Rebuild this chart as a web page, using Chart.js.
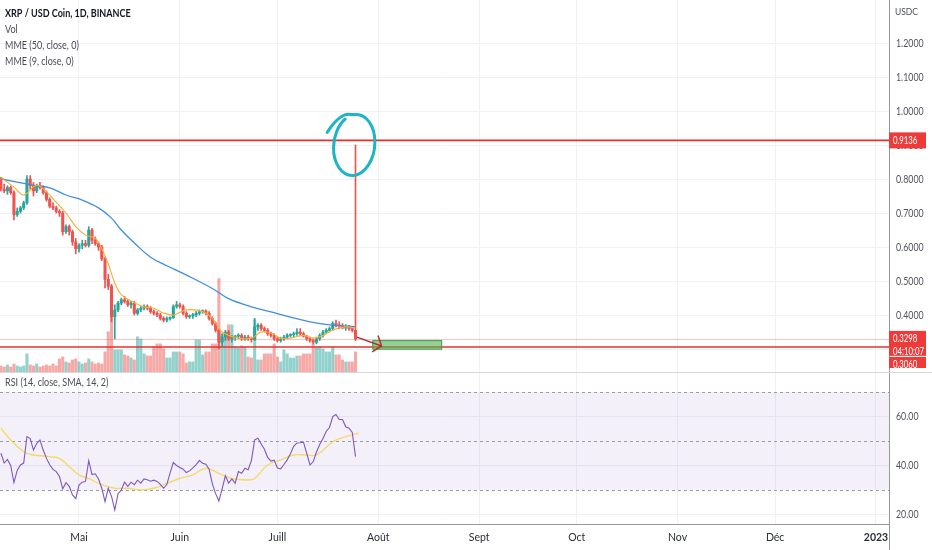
<!DOCTYPE html>
<html lang="fr">
<head>
<meta charset="UTF-8">
<title>XRP / USD Coin, 1D, BINANCE</title>
<script src="https://cdn.jsdelivr.net/npm/chart.js"></script>
<style>
  body { margin: 0; background: #fff; }
  #wrap { position: relative; width: 932px; height: 550px; }
  #pricePane { position: absolute; left: 0; top: 0; }
  #rsiPane { position: absolute; left: 0; top: 372px; }
</style>
</head>
<body>
<div id="wrap">
  <canvas id="pricePane" width="932" height="372"></canvas>
  <canvas id="rsiPane" width="932" height="178"></canvas>
</div>
<script>
// days are counted from 1 April 2022 (= day 0), one candle per day
const firstDay = 6;

const opens = [
  .795,.770,.765,.775,.760,.695,.705,.715,.730,.800,
  .780,.765,.780,.775,.760,.740,.720,.715,.705,.700,
  .645,.660,.645,.615,.595,.605,.610,.605,.650,.620,
  .610,.600,.565,.505,.485,.395,.415,.435,.445,.440,
  .430,.435,.405,.415,.420,.425,.420,.410,.405,.400,
  .390,.385,.390,.392,.425,.430,.425,.405,.395,.398,
  .400,.405,.410,.412,.405,.390,.375,.355,.320,.335,
  .350,.330,.335,.338,.340,.330,.335,.330,.328,.365,
  .370,.360,.355,.345,.340,.330,.325,.330,.335,.340,
  .342,.345,.350,.345,.338,.330,.325,.320,.330,.340,
  .350,.355,.360,.375,.370,.368,.362,.365,.360,.355
];
const highs = [
  .805,.785,.780,.780,.765,.715,.720,.735,.810,.810,
  .790,.785,.790,.780,.765,.745,.730,.720,.710,.705,
  .665,.665,.650,.625,.610,.620,.620,.660,.655,.630,
  .615,.605,.570,.520,.490,.430,.440,.450,.455,.445,
  .440,.440,.420,.425,.430,.430,.425,.415,.410,.405,
  .395,.395,.395,.430,.440,.435,.430,.410,.400,.405,
  .410,.415,.415,.415,.410,.395,.380,.360,.345,.355,
  .355,.340,.340,.345,.345,.340,.340,.335,.390,.375,
  .375,.365,.360,.350,.345,.335,.335,.340,.345,.345,
  .350,.360,.360,.350,.340,.335,.330,.335,.345,.355,
  .360,.365,.380,.385,.380,.375,.372,.370,.365,.900
];
const lows = [
  .765,.760,.755,.755,.680,.690,.700,.710,.725,.770,
  .750,.760,.770,.755,.735,.715,.710,.700,.690,.635,
  .640,.635,.605,.580,.585,.595,.600,.600,.610,.605,
  .590,.560,.480,.475,.380,.330,.410,.430,.435,.425,
  .420,.400,.400,.410,.415,.415,.405,.400,.395,.385,
  .380,.380,.385,.390,.420,.420,.400,.390,.390,.390,
  .395,.400,.405,.400,.385,.370,.350,.300,.310,.325,
  .325,.320,.325,.330,.325,.325,.325,.320,.325,.355,
  .355,.350,.340,.335,.325,.320,.320,.325,.330,.335,
  .335,.340,.340,.335,.325,.320,.315,.315,.325,.335,
  .345,.350,.355,.365,.360,.360,.355,.355,.350,.325
];
const closes = [
  .770,.765,.775,.760,.695,.705,.715,.730,.800,.780,
  .765,.780,.775,.760,.740,.720,.715,.705,.700,.645,
  .660,.645,.615,.595,.605,.610,.605,.650,.620,.610,
  .600,.565,.505,.485,.395,.415,.435,.445,.440,.430,
  .435,.405,.415,.420,.425,.420,.410,.405,.400,.390,
  .385,.390,.392,.425,.430,.425,.405,.395,.398,.400,
  .405,.410,.412,.405,.390,.375,.355,.320,.335,.350,
  .330,.335,.338,.340,.330,.335,.330,.328,.365,.370,
  .360,.355,.345,.340,.330,.325,.330,.335,.340,.342,
  .345,.350,.345,.338,.330,.325,.320,.330,.340,.350,
  .355,.360,.375,.370,.368,.362,.365,.360,.355,.3298
];
// volume, millions of XRP
const volumes = [
  24,20,28,20,32,24,20,24,72,28,
  24,32,20,24,28,24,32,24,52,60,
  40,36,48,52,40,32,36,52,40,32,
  36,32,80,160,220,88,88,88,68,64,
  56,48,140,132,72,64,64,100,112,112,
  92,56,56,80,80,80,72,36,40,40,
  128,128,68,80,80,112,112,372,152,152,
  188,188,100,96,104,100,60,56,208,48,
  48,72,72,72,112,60,40,88,72,56,
  56,64,64,72,72,72,112,100,100,92,
  80,80,100,68,68,48,40,40,40,80
];
const rsi = [
  45,41,42.5,40,33,38,40.2,41,51.8,51,
  46.3,49,50.4,46.3,42.9,40.3,38.4,37.5,35.5,30.5,
  33,31.5,28,26.5,32,33.2,33.5,42,36.3,36.6,
  34.5,30.7,25.2,30.7,27.4,21.9,28.5,30,33.2,31.5,
  33.2,32.2,34,32.8,34.5,34.2,33.6,34,33.5,32.3,
  30.7,32.2,37,41.2,40,39.2,38.5,37.1,37.8,39,
  40.4,42,40.9,40.5,38.5,32.5,28.5,25.5,30.5,35.8,
  32.8,34.5,32.7,37.5,36.8,38.9,38.3,42,50.5,51.1,
  48.8,46.6,43.3,41.8,42.2,39,38.6,40.4,42.3,44.8,
  47.8,49.2,49.3,49.5,45,40.2,41.5,45.5,48.6,51,
  54,55.5,60,60.8,58.8,58.8,55.8,55.2,53.5,43.6
];

// moving averages
const ema50Days = [6,16,21,26,31,36,40,43,47,52,57,61,65,71,76,83,89,95,101,107,115];
const ema50 = [.800,.782,.774,.753,.738,.715,.685,.650,.612,.570,.545,.527,.508,.478,.448,.424,.409,.394,.380,.371,.366];
const ema9Days = [6,10,13,17,20,23,26,29,32,35,37,39,41,43,47,50,53,56,59,63,68,71,74,79,83,86,89,92,95,99,102,105,108,112,115];
const ema9 = [.805,.776,.753,.782,.762,.732,.700,.660,.635,.626,.595,.550,.494,.460,.436,.424,.420,.406,.400,.415,.410,.390,.350,.332,.332,.350,.347,.332,.332,.340,.332,.340,.356,.365,.362];
const rsiSmaDays = [6,9,13,16,21,24,27,30,33,36,41,45,49,53,57,61,65,69,73,77,82,84,88,92,96,100,103,108,112,116];
const rsiSma = [55.2,50.4,45.6,44.3,43.6,42.9,39.5,36.2,34.7,32.7,30.7,30.7,30.0,30.7,32.7,34.7,36.2,38.9,36.8,34.7,34.1,34.7,40.2,42.3,44.3,44.3,44.3,49.7,51.8,53.2];

const monthDays = [30, 61, 91, 122, 153, 183, 214, 244, 275];
const monthLabels = ['Mai', 'Juin', 'Juill', 'Août', 'Sept', 'Oct', 'Nov', 'Déc', '2023'];
const priceTicks = [0.3, 0.4, 0.5, 0.6, 0.7, 0.8, 0.9, 1.0, 1.1, 1.2];
const rsiTicks = [20, 40, 60];

const levelLines = [0.9136, 0.3060];
const lastPrice = 0.3298;
const countdown = '04:10:07';

// hand drawings on the chart (day, price)
const targetBox = { from: 120.3, to: 141.5, top: 0.3247, bottom: 0.2994 };
const arrow = { fromDay: 115.4, fromPrice: 0.335, toDay: 123, toPrice: 0.309 };
const ring = { day: 114.6, price: 0.90, rDays: 6.3, rPrice: 0.09, tailDay: 106.3, tailPrice: 0.937 };

const xMin = 5.715, xMax = 279.0;
const days = closes.map((_, i) => firstDay + i);

const UP = '#26a69a', DOWN = '#ef5350';
const font = "Lato, 'Open Sans', sans-serif";
const gridColor = '#eff1f4';
const textColor = '#50535e';
const isUp = i => closes[i] >= opens[i];

// narrow text, like the TradingView UI font
function narrowText(ctx, text, x, y, size, weight, sx) {
  ctx.save();
  ctx.font = (weight || '') + ' ' + size + 'px ' + font;
  ctx.scale(sx, 1);
  ctx.fillText(text, x / sx, y);
  ctx.restore();
}

const pricePlugin = {
  id: 'priceDecor',
  afterDatasetsDraw(chart) {
    const { ctx, chartArea: a, scales: { x, y } } = chart;
    ctx.save();
    // current price line
    ctx.strokeStyle = 'rgba(239,83,80,0.35)';
    ctx.lineWidth = 1;
    let py = Math.round(y.getPixelForValue(lastPrice)) + 0.5;
    ctx.beginPath(); ctx.moveTo(a.left, py); ctx.lineTo(a.right, py); ctx.stroke();
    // horizontal levels
    ctx.strokeStyle = '#e3302d';
    ctx.lineWidth = 1.6;
    levelLines.forEach(v => {
      const ly = y.getPixelForValue(v);
      ctx.beginPath(); ctx.moveTo(a.left, ly); ctx.lineTo(a.right, ly); ctx.stroke();
    });
    // target box
    const bx1 = x.getPixelForValue(targetBox.from), bx2 = x.getPixelForValue(targetBox.to);
    const by1 = y.getPixelForValue(targetBox.top), by2 = y.getPixelForValue(targetBox.bottom);
    ctx.fillStyle = 'rgba(76,175,80,0.6)';
    ctx.fillRect(bx1, by1, bx2 - bx1, by2 - by1);
    ctx.strokeStyle = '#3f9a43';
    ctx.lineWidth = 1;
    ctx.strokeRect(bx1, by1, bx2 - bx1, by2 - by1);
    // arrow
    const ax1 = x.getPixelForValue(arrow.fromDay), ay1 = y.getPixelForValue(arrow.fromPrice);
    const ax2 = x.getPixelForValue(arrow.toDay), ay2 = y.getPixelForValue(arrow.toPrice);
    const ang = Math.atan2(ay2 - ay1, ax2 - ax1);
    ctx.strokeStyle = '#b3302c';
    ctx.lineWidth = 1.5;
    ctx.beginPath(); ctx.moveTo(ax1, ay1); ctx.lineTo(ax2, ay2); ctx.stroke();
    ctx.beginPath();
    ctx.moveTo(ax2 + 11 * Math.cos(ang + Math.PI - 0.9), ay2 + 11 * Math.sin(ang + Math.PI - 0.9));
    ctx.lineTo(ax2, ay2);
    ctx.lineTo(ax2 + 11 * Math.cos(ang + Math.PI + 0.9), ay2 + 11 * Math.sin(ang + Math.PI + 0.9));
    ctx.stroke();
    // hand drawn ring
    const cx = x.getPixelForValue(ring.day), cy = y.getPixelForValue(ring.price);
    const rx = x.getPixelForValue(ring.day + ring.rDays) - cx;
    const ry = y.getPixelForValue(ring.price - ring.rPrice) - cy;
    ctx.strokeStyle = '#1eb3c8';
    ctx.lineWidth = 3;
    ctx.lineCap = 'round';
    ctx.beginPath();
    ctx.moveTo(x.getPixelForValue(ring.tailDay), y.getPixelForValue(ring.tailPrice));
    ctx.quadraticCurveTo(cx - rx * 0.7, cy - ry * 1.05, cx - rx * 0.2, cy - ry);
    ctx.ellipse(cx, cy, rx, ry, 0.12, -Math.PI * 0.55, Math.PI * 1.3);
    ctx.stroke();
    ctx.restore();
  },
  afterDraw(chart) {
    const { ctx, chartArea: a, scales: { y } } = chart;
    const w = 37;
    ctx.save();
    ctx.textBaseline = 'middle';
    ctx.fillStyle = textColor;
    narrowText(ctx, 'USDC', a.right + 6, 12, 10, '', 0.85);
    priceTicks.forEach(v => narrowText(ctx, v.toFixed(4), a.right + 7, y.getPixelForValue(v), 11, '', 0.8));
    // price tags on the axis
    const tag = (top, h, lines) => {
      ctx.fillStyle = '#ee3b3a';
      ctx.fillRect(a.right, top, w, h);
      ctx.fillStyle = '#fff';
      lines.forEach((t, k) => narrowText(ctx, t, a.right + 4, top + 8 + k * 13, 10.5, '', 0.74));
    };
    const t1 = y.getPixelForValue(levelLines[0]);
    tag(t1 - 8, 16, [levelLines[0].toFixed(4)]);
    const t2 = y.getPixelForValue(lastPrice);
    ctx.save();
    ctx.beginPath();
    ctx.rect(a.right, 0, chart.width - a.right, a.bottom - 4);
    ctx.clip();
    tag(t2 + 18, 16, [levelLines[1].toFixed(4)]);
    ctx.restore();
    tag(t2 - 8, 25, [lastPrice.toFixed(4), countdown]);
    // legend
    ctx.fillStyle = '#131722';
    narrowText(ctx, 'XRP / USD Coin, 1D, BINANCE', 5, 14, 10.5, 'bold', 0.86);
    ctx.fillStyle = '#4a4d57';
    narrowText(ctx, 'Vol', 5, 30, 10.5, '', 0.86);
    narrowText(ctx, 'MME (50, close, 0)', 5, 46, 10.5, '', 0.86);
    narrowText(ctx, 'MME (9, close, 0)', 5, 62, 10.5, '', 0.86);
    ctx.restore();
  }
};

new Chart(document.getElementById('pricePane'), {
  type: 'bar',
  data: {
    datasets: [
      {
        label: 'Vol',
        data: days.map((d, i) => ({ x: d, y: volumes[i] })),
        yAxisID: 'yv',
        backgroundColor: c => isUp(c.dataIndex) ? 'rgba(38,166,154,0.5)' : 'rgba(239,83,80,0.5)',
        barThickness: 2.4,
        grouped: false,
        order: 5
      },
      {
        label: 'wick',
        data: days.map((d, i) => ({ x: d, y: [lows[i], highs[i]] })),
        backgroundColor: c => isUp(c.dataIndex) ? UP : DOWN,
        barThickness: 1,
        grouped: false,
        order: 4
      },
      {
        label: 'body',
        data: days.map((d, i) => ({ x: d, y: [opens[i], closes[i]] })),
        backgroundColor: c => isUp(c.dataIndex) ? UP : DOWN,
        barThickness: 2.4,
        minBarLength: 1,
        grouped: false,
        order: 3
      },
      {
        type: 'line',
        label: 'MME (50, close, 0)',
        data: ema50Days.map((d, i) => ({ x: d, y: ema50[i] })),
        borderColor: '#3f8fdc',
        borderWidth: 1.3,
        pointRadius: 0,
        tension: 0.4,
        order: 2
      },
      {
        type: 'line',
        label: 'MME (9, close, 0)',
        data: ema9Days.map((d, i) => ({ x: d, y: ema9[i] })),
        borderColor: '#f6ad33',
        borderWidth: 1.1,
        pointRadius: 0,
        tension: 0.35,
        order: 1
      }
    ]
  },
  options: {
    responsive: false,
    animation: false,
    layout: { padding: 0 },
    plugins: { legend: { display: false }, tooltip: { enabled: false } },
    scales: {
      x: {
        type: 'linear', min: xMin, max: xMax, offset: false,
        grid: { color: gridColor, drawTicks: false, offset: false },
        border: { display: false },
        ticks: { display: false },
        afterBuildTicks: s => { s.ticks = monthDays.map(v => ({ value: v })); },
        afterFit: s => { s.height = 0; }
      },
      y: {
        position: 'right', min: 0.2324, max: 1.3265,
        grid: { color: gridColor, drawTicks: false },
        border: { display: true, color: '#9598a1' },
        ticks: { display: false },
        afterBuildTicks: s => { s.ticks = priceTicks.map(v => ({ value: v })); },
        afterFit: s => { s.width = 43; }
      },
      yv: { display: false, min: 0, max: 1480 }
    }
  },
  plugins: [pricePlugin]
});

const rsiPlugin = {
  id: 'rsiDecor',
  beforeDatasetsDraw(chart) {
    const { ctx, chartArea: a, scales: { y } } = chart;
    ctx.save();
    ctx.fillStyle = 'rgba(126,87,194,0.09)';
    ctx.fillRect(a.left, y.getPixelForValue(70), a.right - a.left, y.getPixelForValue(30) - y.getPixelForValue(70));
    ctx.strokeStyle = '#9a9ca6';
    ctx.lineWidth = 1;
    ctx.setLineDash([3, 3]);
    [70, 50, 30].forEach(v => {
      const ly = Math.round(y.getPixelForValue(v)) + 0.5;
      ctx.beginPath(); ctx.moveTo(a.left, ly); ctx.lineTo(a.right, ly); ctx.stroke();
    });
    ctx.restore();
  },
  afterDraw(chart) {
    const { ctx, chartArea: a, scales: { y } } = chart;
    ctx.save();
    ctx.strokeStyle = '#9598a1';
    ctx.lineWidth = 1;
    ctx.beginPath(); ctx.moveTo(a.right + 0.5, a.bottom); ctx.lineTo(a.right + 0.5, chart.height); ctx.stroke();
    ctx.strokeStyle = '#d6d8de';
    ctx.beginPath(); ctx.moveTo(0, 0.5); ctx.lineTo(chart.width, 0.5); ctx.stroke();
    ctx.textBaseline = 'middle';
    ctx.fillStyle = textColor;
    rsiTicks.forEach(v => narrowText(ctx, v.toFixed(2), a.right + 7, y.getPixelForValue(v), 11, '', 0.8));
    ctx.fillStyle = '#4a4d57';
    narrowText(ctx, 'RSI (14, close, SMA, 14, 2)', 5, 11, 10.5, '', 0.86);
    ctx.restore();
  }
};

new Chart(document.getElementById('rsiPane'), {
  type: 'line',
  data: {
    datasets: [
      {
        label: 'RSI',
        data: days.map((d, i) => ({ x: d, y: rsi[i] })),
        borderColor: '#7e57c2',
        borderWidth: 1.1,
        pointRadius: 0,
        order: 1
      },
      {
        label: 'SMA',
        data: rsiSmaDays.map((d, i) => ({ x: d, y: rsiSma[i] })),
        borderColor: 'rgba(245,214,80,0.85)',
        borderWidth: 1.4,
        pointRadius: 0,
        tension: 0.4,
        order: 2
      }
    ]
  },
  options: {
    responsive: false,
    animation: false,
    layout: { padding: 0 },
    plugins: { legend: { display: false }, tooltip: { enabled: false } },
    scales: {
      x: {
        type: 'linear', min: xMin, max: xMax,
        grid: { color: gridColor, drawTicks: false },
        border: { display: true, color: '#9598a1' },
        ticks: {
          autoSkip: false, maxRotation: 0, padding: 7, color: '#2a2e39',
          font: c => ({ family: font, size: 10.5, weight: c.tick && c.tick.value === 275 ? 'bold' : 'normal' }),
          callback: v => monthLabels[monthDays.indexOf(v)]
        },
        afterBuildTicks: s => { s.ticks = monthDays.map(v => ({ value: v })); },
        afterFit: s => { s.height = 26; }
      },
      y: {
        position: 'right', min: 16.12, max: 78.16,
        grid: { color: gridColor, drawTicks: false },
        border: { display: true, color: '#9598a1' },
        ticks: { display: false },
        afterBuildTicks: s => { s.ticks = rsiTicks.map(v => ({ value: v })); },
        afterFit: s => { s.width = 43; }
      }
    }
  },
  plugins: [rsiPlugin]
});
</script>
</body>
</html>
